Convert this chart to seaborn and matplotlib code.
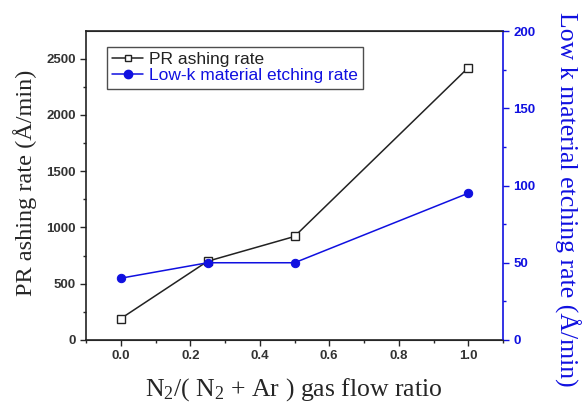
import pandas as pd
import matplotlib.pyplot as plt
import seaborn as sns
from matplotlib.ticker import MultipleLocator
from matplotlib.lines import Line2D

# values
ratio = [0.0, 0.25, 0.5, 1.0]
pr_ashing = [190, 700, 920, 2420]
lowk_etching = [40, 50, 50, 95]

df = pd.DataFrame({'ratio': ratio, 'pr': pr_ashing, 'lowk': lowk_etching})

sns.set_style('ticks')
plt.rcParams['font.family'] = ['Liberation Sans', 'DejaVu Sans']
plt.rcParams['mathtext.fontset'] = 'custom'
plt.rcParams['mathtext.rm'] = 'Liberation Serif'
plt.rcParams['mathtext.it'] = 'Liberation Serif:italic'
serif = ['Liberation Serif', 'DejaVu Serif']
blue = '#1010e0'

fig = plt.figure(figsize=(5.82, 4.07), dpi=100)
ax = fig.add_axes([86 / 582, 1 - 340 / 407, (503 - 86) / 582, (340 - 31) / 407])
ax2 = ax.twinx()

sns.lineplot(data=df, x='ratio', y='pr', ax=ax, color='#222222', lw=1.1,
             marker='s', markersize=5.5, markerfacecolor='white',
             markeredgecolor='#222222', markeredgewidth=1.0)
sns.lineplot(data=df, x='ratio', y='lowk', ax=ax2, color=blue, lw=1.1,
             marker='o', markersize=6, markerfacecolor=blue,
             markeredgecolor=blue)

ax.set_xlim(-0.1, 1.1)
ax.set_ylim(0, 2746)
ax2.set_ylim(0, 200)

ax.xaxis.set_major_locator(MultipleLocator(0.2))
ax.xaxis.set_minor_locator(MultipleLocator(0.1))
ax.yaxis.set_major_locator(MultipleLocator(500))
ax.yaxis.set_minor_locator(MultipleLocator(250))
ax2.yaxis.set_major_locator(MultipleLocator(50))
ax2.yaxis.set_minor_locator(MultipleLocator(25))

ax.tick_params(which='major', length=4, width=1, labelsize=9.5, direction='out')
ax.tick_params(which='minor', length=2.5, width=1, direction='out')
ax2.tick_params(which='major', length=4, width=1, labelsize=9.5, colors=blue)
ax2.tick_params(which='minor', length=2.5, width=1, colors=blue)

for lbl in ax.get_xticklabels() + ax.get_yticklabels() + ax2.get_yticklabels():
    lbl.set_fontweight('bold')
for lbl in ax.get_xticklabels() + ax.get_yticklabels():
    lbl.set_color('#333333')

for s in ['left', 'bottom', 'top']:
    ax.spines[s].set_linewidth(1.2)
    ax.spines[s].set_color('#222222')
ax2.spines['right'].set_color(blue)
ax2.spines['right'].set_linewidth(1.2)
ax.spines['right'].set_visible(False)
ax2.spines['left'].set_visible(False)

ax.set_xlabel(r'N$_2$/( N$_2$ + Ar ) gas flow ratio', fontsize=18.5, family=serif)
ax.set_ylabel('PR ashing rate (Å/min)', fontsize=17.5, family=serif)
ax2.set_ylabel('Low k material etching rate (Å/min)', fontsize=18.5, family=serif,
               color=blue, rotation=270)
ax.xaxis.set_label_coords(0.499, -0.162)
ax.yaxis.set_label_coords(-0.146, 0.508)
ax2.yaxis.set_label_coords(1.153, 0.456)
for lab in [ax.xaxis.label, ax.yaxis.label, ax2.yaxis.label]:
    lab.set_va('center')
    lab.set_ha('center')

handles = [
    Line2D([], [], color='#222222', lw=1.1, marker='s', markersize=5,
           markerfacecolor='white', markeredgecolor='#222222'),
    Line2D([], [], color=blue, lw=1.1, marker='o', markersize=6,
           markerfacecolor=blue, markeredgecolor=blue),
]
leg = ax.legend(handles, ['PR ashing rate', 'Low-k material etching rate'],
                loc='upper left', bbox_to_anchor=(0.05, 0.948), borderaxespad=0,
                fontsize=12.5, frameon=True, fancybox=False, edgecolor='#222222',
                handlelength=1.8, handletextpad=0.35, borderpad=0.3,
                labelspacing=0.05)
leg.get_frame().set_linewidth(1.0)
leg.get_texts()[1].set_color(blue)
leg.get_texts()[0].set_color('#222222')

fig.savefig('out.png', dpi=100)
